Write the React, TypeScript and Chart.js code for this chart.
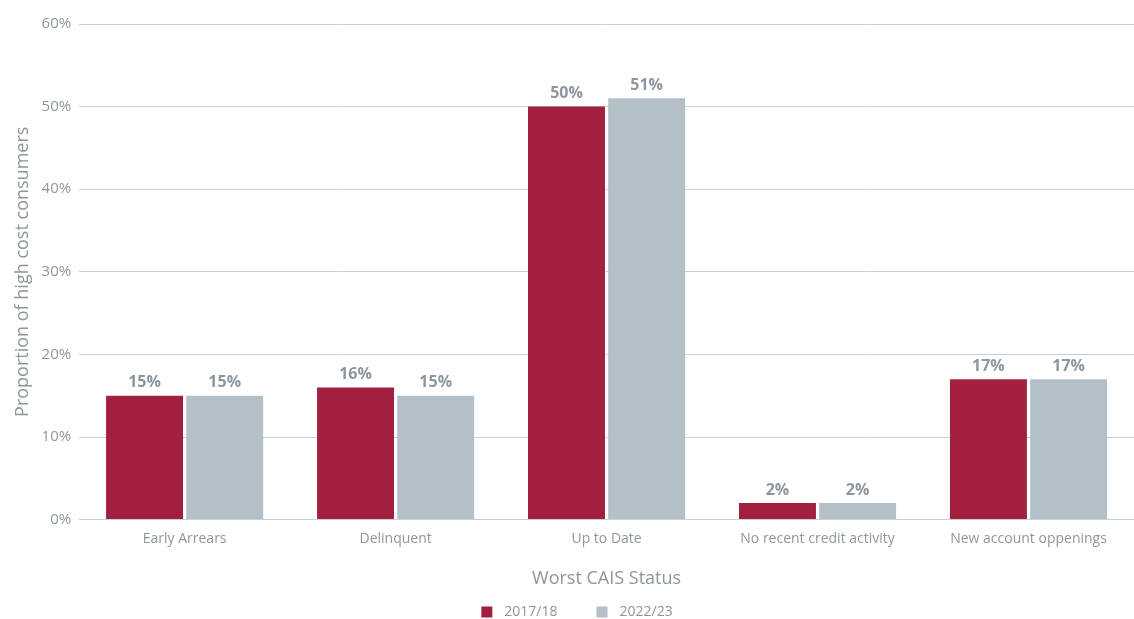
import React, { useEffect, useRef } from "react";
import { Chart, registerables } from "chart.js";

Chart.register(...registerables);

const categories = ["Early Arrears", "Delinquent", "Up to Date", "No recent credit activity", "New account oppenings"];
const series2017 = [15, 16, 50, 2, 17];
const series2022 = [15, 15, 51, 2, 17];
const seriesLabels = ["2017/18", "2022/23"];
const yTicks = [0, 10, 20, 30, 40, 50, 60];

const RED = "#A2203F";
const GREY = "#B4C0C8";
const TEXT = "#8C979D";
const FONT = "'Open Sans', Lato, sans-serif";

const labelPlugin = {
  id: "barLabels",
  afterDatasetsDraw(chart: any) {
    const ctx = chart.ctx;
    ctx.save();
    ctx.font = `bold 16px ${FONT}`;
    ctx.fillStyle = TEXT;
    ctx.textAlign = "center";
    ctx.textBaseline = "bottom";
    chart.data.datasets.forEach((ds: any, i: number) => {
      const meta = chart.getDatasetMeta(i);
      meta.data.forEach((bar: any, j: number) => {
        ctx.fillText(ds.data[j] + "%", bar.x, bar.y - 5);
      });
    });
    ctx.restore();
  },
};

const legendPlugin = {
  id: "bottomLegend",
  afterDraw(chart: any) {
    const ctx = chart.ctx;
    ctx.save();
    ctx.font = `14px ${FONT}`;
    ctx.textBaseline = "middle";
    ctx.textAlign = "left";
    const box = 11;
    const gapText = 12;
    const gapItem = 39;
    const items = chart.data.datasets.map((ds: any) => ({
      label: ds.label,
      color: ds.backgroundColor,
      w: ctx.measureText(ds.label).width,
    }));
    const total =
      items.reduce((s: number, it: any) => s + box + gapText + it.w, 0) + gapItem * (items.length - 1);
    let x = chart.width / 2 + 10 - total / 2;
    const y = 612;
    items.forEach((it: any) => {
      ctx.fillStyle = it.color;
      ctx.fillRect(x, y - box / 2, box, box);
      x += box + gapText;
      ctx.fillStyle = TEXT;
      ctx.fillText(it.label, x, y);
      x += it.w + gapItem;
    });
    ctx.restore();
  },
};

export default function App() {
  const ref = useRef<HTMLCanvasElement>(null);
  useEffect(() => {
    document.body.style.margin = "0";
    const chart = new Chart(ref.current!, {
      type: "bar",
      data: {
        labels: categories,
        datasets: [
          { label: seriesLabels[0], data: series2017, backgroundColor: RED },
          { label: seriesLabels[1], data: series2022, backgroundColor: GREY },
        ],
      },
      options: {
        animation: false,
        responsive: false,
        layout: { padding: { top: 24, right: 0, left: 12, bottom: 29 } },
        datasets: { bar: { barPercentage: 0.96, categoryPercentage: 0.76 } },
        scales: {
          x: {
            grid: { display: false },
            border: { color: "#C5D0D8", width: 1 },
            ticks: { color: TEXT, font: { family: FONT, size: 14 }, padding: 3 },
            title: {
              display: true,
              text: "Worst CAIS Status",
              color: TEXT,
              font: { family: FONT, size: 18 },
              padding: { top: 18, bottom: 0 },
            },
          },
          y: {
            min: 0,
            max: 60,
            afterBuildTicks: (axis: any) => {
              axis.ticks = yTicks.map((v) => ({ value: v }));
            },
            grid: { color: "#C5D0D8", drawTicks: false },
            border: { display: false },
            ticks: {
              color: TEXT,
              font: { family: FONT, size: 15 },
              padding: 8,
              callback: (v: any) => v + "%",
            },
            title: {
              display: true,
              text: "Proportion of high cost consumers",
              color: TEXT,
              font: { family: FONT, size: 18 },
              padding: { top: 0, bottom: 0 },
            },
          },
        },
        plugins: {
          legend: { display: false },
          tooltip: { enabled: false },
        },
      },
      plugins: [labelPlugin, legendPlugin],
    });
    return () => chart.destroy();
  }, []);
  return (
    <div style={{ position: "fixed", left: 0, top: 0, width: 1134, height: 619 }}>
      <canvas ref={ref} width={1134} height={619} style={{ width: 1134, height: 619 }} />
    </div>
  );
}
